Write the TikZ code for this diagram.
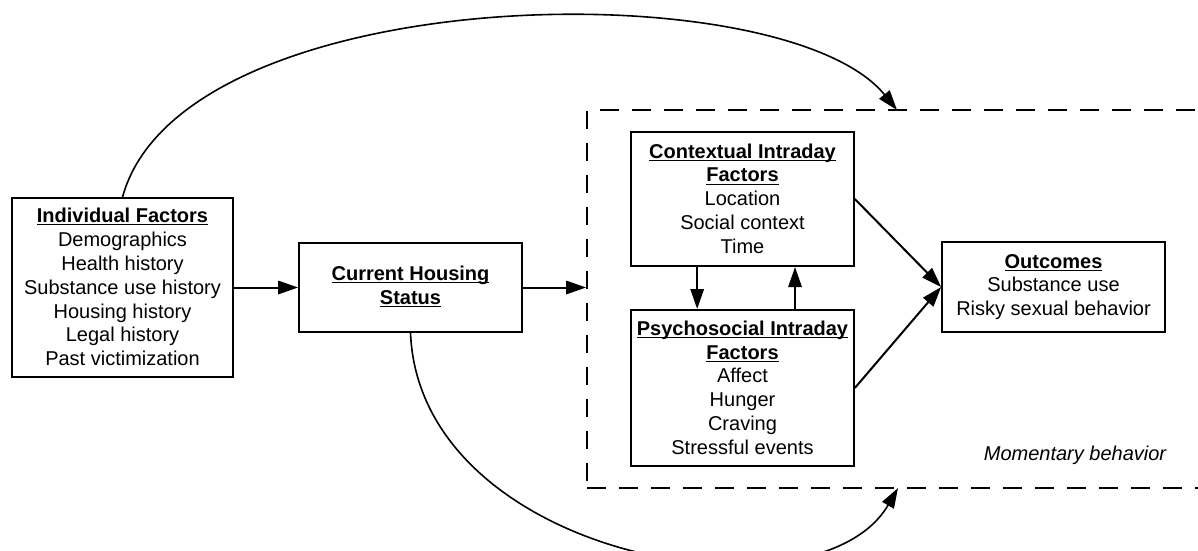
\documentclass[tikz,border=0pt]{standalone}
\usepackage{fontspec}
\setmainfont{Liberation Sans}
\usetikzlibrary{arrows.meta}

\tikzset{
  box/.style={draw, line width=1.5pt, align=center, minimum width=167pt, inner sep=2pt,
    font=\fontsize{15pt}{17.85pt}\selectfont},
  arr/.style={-{Triangle[length=15pt,width=10pt]}, line width=1.5pt},
}
\newcommand{\hd}[1]{\underline{\smash{\textbf{#1}}}\vphantom{Ay}}

\begin{document}
\begin{tikzpicture}[x=0.75pt,y=-0.75pt]
\useasboundingbox (0,0) rectangle (1198,550);

\node[draw, dash pattern=on 14pt off 10pt, line width=1.5pt, minimum width=482pt,
  minimum height=283.5pt] (mom) at (908.5,299) {};
\node[font=\fontsize{15pt}{17.85pt}\selectfont\itshape] (lbl) at (1075,455) {Momentary behavior};

\node[box, minimum width=165.75pt, minimum height=134pt] (ind) at (122.5,287.5)
  {\hd{Individual Factors}\\Demographics\\Health history\\Substance use history\\Housing history\\Legal history\\Past victimization};
\node[box, minimum height=66.75pt] (house) at (410.5,287.5) {\hd{Current Housing}\\\hd{Status}};
\node[box, minimum height=100.5pt] (ctx) at (742.5,199)
  {\hd{Contextual Intraday}\\\hd{Factors}\\Location\\Social context\\Time};
\node[box, minimum height=117pt] (psy) at (742.5,388)
  {\hd{Psychosocial Intraday}\\\hd{Factors}\\Affect\\Hunger\\Craving\\Stressful events};
\node[box, minimum height=67.5pt] (out) at (1053.5,287) {\hd{Outcomes}\\Substance use\\Risky sexual behavior};

\coordinate (topin) at (897,110);
\coordinate (botin) at (898,488);

\draw[arr] (ind) -- (house);
\draw[arr] (house.east) -- (house.east -| mom.west);
\draw[arr] ([xshift=-34pt]ctx.south) -- ([xshift=-34pt]psy.north);
\draw[arr] ([xshift=39.4pt]psy.north) -- ([xshift=39.4pt]ctx.south);
\draw[arr] (ctx.east) -- (out.west);
\draw[arr] (psy.east) -- (out.west);
\draw[arr, line width=1.2pt] (ind.north) .. controls (181.5,-20) and (783,-30) .. (topin);
\draw[arr, line width=1.2pt] (house.south) .. controls (420,560) and (818,626) .. (botin);
\end{tikzpicture}
\end{document}
